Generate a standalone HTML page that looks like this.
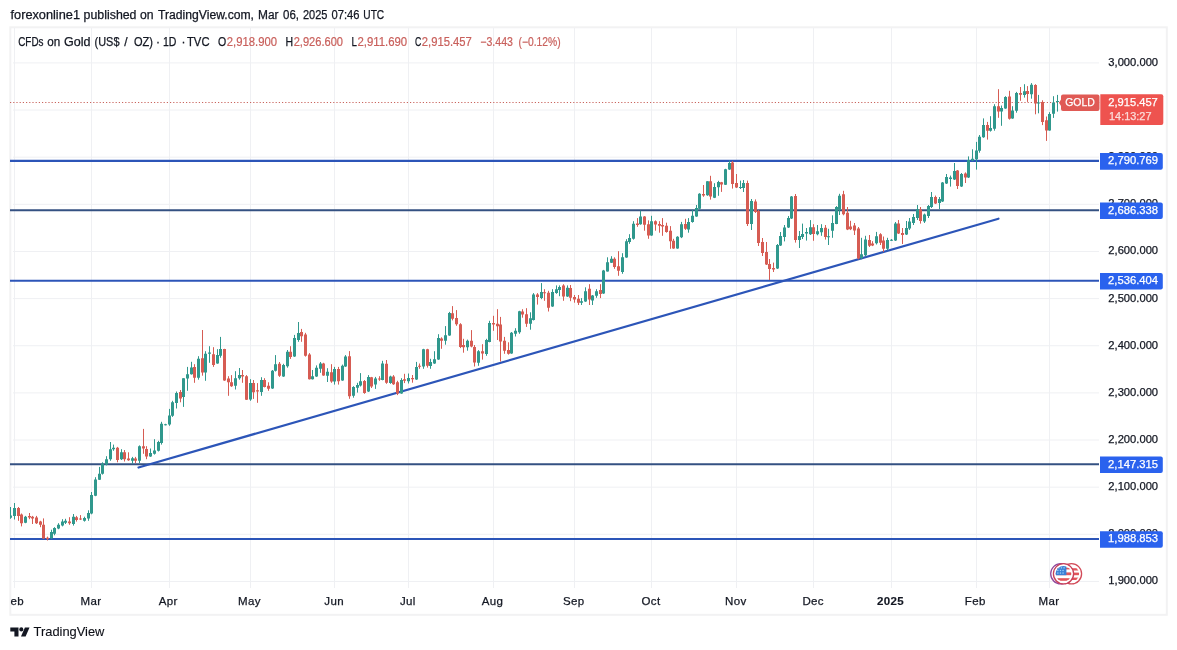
<!DOCTYPE html>
<html lang="en"><head><meta charset="utf-8"><title>CFDs on Gold (US$ / OZ) - TradingView</title>
<style>
html,body{margin:0;padding:0;background:#fff;}
body{width:1177px;height:650px;overflow:hidden;font-family:"Liberation Sans", "DejaVu Sans", sans-serif;}
svg{display:block;}
text{font-family:"Liberation Sans", "DejaVu Sans", sans-serif;font-size:12px;fill:#131722;stroke:#131722;stroke-width:0.25px;}
.w{fill:#fff;stroke:#fff;}
.ax{font-size:11px;}
.tm{font-size:11.5px;letter-spacing:0.35px;}
.b{font-weight:bold;stroke-width:0.15px;}
.rd{fill:#c9605c;stroke:#c9605c;stroke-width:0.2px;}
</style></head><body>
<svg width="1177" height="650" viewBox="0 0 1177 650">
<rect x="0" y="0" width="1177" height="650" fill="#ffffff"/>
<rect x="10.3" y="27.3" width="1156.5" height="587.5" fill="#fff" stroke="#f2f2f3" stroke-width="2"/>
<g stroke="#eff0f3" stroke-width="1" shape-rendering="crispEdges"><line x1="14.5" y1="28" x2="14.5" y2="588"/><line x1="91.5" y1="28" x2="91.5" y2="588"/><line x1="169.5" y1="28" x2="169.5" y2="588"/><line x1="250.5" y1="28" x2="250.5" y2="588"/><line x1="334.5" y1="28" x2="334.5" y2="588"/><line x1="408.5" y1="28" x2="408.5" y2="588"/><line x1="493.5" y1="28" x2="493.5" y2="588"/><line x1="574.5" y1="28" x2="574.5" y2="588"/><line x1="651.5" y1="28" x2="651.5" y2="588"/><line x1="736.5" y1="28" x2="736.5" y2="588"/><line x1="813.5" y1="28" x2="813.5" y2="588"/><line x1="891.5" y1="28" x2="891.5" y2="588"/><line x1="976.5" y1="28" x2="976.5" y2="588"/><line x1="1049.5" y1="28" x2="1049.5" y2="588"/></g>
<g stroke="#eff0f3" stroke-width="1"><line x1="13" y1="581.44" x2="1099" y2="581.44"/><line x1="13" y1="534.30" x2="1099" y2="534.30"/><line x1="13" y1="487.16" x2="1099" y2="487.16"/><line x1="13" y1="440.02" x2="1099" y2="440.02"/><line x1="13" y1="392.88" x2="1099" y2="392.88"/><line x1="13" y1="345.74" x2="1099" y2="345.74"/><line x1="13" y1="298.60" x2="1099" y2="298.60"/><line x1="13" y1="251.46" x2="1099" y2="251.46"/><line x1="13" y1="204.32" x2="1099" y2="204.32"/><line x1="13" y1="157.18" x2="1099" y2="157.18"/><line x1="13" y1="110.04" x2="1099" y2="110.04"/><line x1="13" y1="62.90" x2="1099" y2="62.90"/></g>
<line x1="10" y1="102.5" x2="1100" y2="102.5" stroke="#c9655e" stroke-width="1" stroke-dasharray="1.2 2"/>
<line x1="10" y1="160.9" x2="1099" y2="160.9" stroke="#2c55b8" stroke-width="2.1"/>
<line x1="10" y1="210.2" x2="1099" y2="210.2" stroke="#345182" stroke-width="2.1"/>
<line x1="10" y1="280.8" x2="1099" y2="280.8" stroke="#2c55b8" stroke-width="2.1"/>
<line x1="10" y1="464.3" x2="1099" y2="464.3" stroke="#345182" stroke-width="2.1"/>
<line x1="10" y1="539.0" x2="1099" y2="539.0" stroke="#2c55b8" stroke-width="2.1"/>
<line x1="138.5" y1="467.5" x2="998.5" y2="218.7" stroke="#2c55b8" stroke-width="2.2" stroke-linecap="round"/>
<path d="M10.5 507.0V518.8M14.5 503.0V519.5M25.5 515.9V523.2M51.5 529.7V538.9M54.5 527.2V535.3M58.5 523.2V529.2M62.5 519.2V526.4M65.5 518.8V524.0M73.5 514.0V525.6M84.5 516.7V521.6M88.5 510.3V520.8M91.5 492.0V514.3M95.5 477.2V496.2M99.5 466.9V480.0M102.5 462.3V474.6M106.5 456.2V465.4M110.5 442.0V460.8M113.5 444.6V450.8M121.5 449.2V460.0M132.5 456.9V463.8M139.5 445.4V463.1M150.5 448.5V456.9M154.5 439.2V454.6M158.5 440.8V451.5M161.5 421.8V444.6M165.5 423.8V425.4M169.5 408.9V425.8M172.5 400.8V416.9M176.5 391.5V408.5M183.5 378.2V406.9M187.5 366.9V390.8M191.5 361.8V374.6M198.5 356.2V379.7M205.5 351.2V380.8M209.5 346.2V362.8M217.5 349.2V363.8M220.5 336.9V357.7M235.5 371.2V389.5M239.5 368.0V379.7M250.5 379.2V400.8M261.5 377.2V395.8M272.5 370.0V388.9M275.5 355.1V371.5M283.5 363.8V376.9M287.5 350.0V367.7M294.5 334.9V356.9M298.5 322.0V341.8M312.5 370.0V379.5M316.5 365.4V376.9M320.5 362.0V372.8M327.5 368.2V382.0M334.5 366.9V384.6M342.5 364.6V380.8M345.5 355.1V366.9M353.5 386.2V397.7M357.5 382.8V392.6M360.5 373.1V386.5M368.5 375.1V392.0M375.5 376.9V388.9M382.5 360.8V380.3M390.5 375.7V383.8M401.5 378.2V393.8M408.5 373.5V383.5M416.5 361.9V379.9M423.5 348.8V368.8M430.5 358.8V368.8M434.5 351.2V363.9M438.5 334.2V359.9M445.5 326.1V344.7M449.5 311.9V335.8M467.5 339.6V350.7M478.5 350.1V365.8M486.5 338.8V355.8M489.5 320.8V342.3M511.5 332.0V353.8M515.5 328.2V336.5M519.5 310.8V333.8M530.5 312.3V329.7M533.5 293.1V320.5M541.5 283.1V299.2M552.5 289.2V306.9M556.5 285.4V293.8M559.5 285.4V296.2M567.5 285.4V296.9M581.5 298.1V305.0M585.5 287.3V301.9M592.5 295.0V305.0M596.5 289.2V297.8M603.5 269.9V293.9M607.5 257.3V271.6M611.5 256.2V263.0M622.5 253.2V273.8M626.5 239.2V257.8M629.5 234.2V243.8M633.5 221.2V239.6M640.5 210.7V224.7M651.5 215.8V235.8M677.5 236.2V248.8M681.5 221.9V238.1M688.5 218.1V232.7M692.5 209.6V222.7M696.5 205.0V216.8M699.5 193.2V209.6M707.5 181.2V195.8M714.5 183.2V198.1M718.5 180.8V195.8M725.5 168.8V185.0M729.5 160.4V169.9M740.5 180.6V189.0M743.5 180.0V192.0M751.5 199.0V230.0M777.5 244.0V269.0M780.5 232.0V246.0M784.5 225.0V241.4M788.5 216.0V228.0M791.5 196.0V219.0M799.5 231.0V248.0M802.5 223.6V239.0M806.5 228.0V240.6M810.5 220.1V235.0M817.5 225.0V235.3M821.5 224.2V235.8M828.5 228.8V245.0M832.5 215.3V237.8M836.5 206.1V224.2M839.5 193.8V215.0M861.5 237.8V259.3M865.5 235.8V256.5M876.5 231.9V244.5M887.5 237.8V250.4M891.5 239.0V241.0M895.5 222.0V241.0M906.5 221.0V235.0M909.5 218.0V230.0M913.5 214.0V225.0M917.5 205.0V220.0M924.5 213.6V223.0M928.5 205.0V218.0M931.5 192.0V208.0M939.5 197.0V209.0M942.5 182.0V202.0M946.5 174.0V184.0M950.5 175.6V186.6M954.5 163.0V180.0M961.5 173.0V187.0M968.5 156.4V178.0M972.5 149.3V161.2M976.5 141.9V169.6M979.5 135.0V152.7M983.5 118.4V137.8M990.5 116.2V131.6M994.5 104.2V130.7M1001.5 105.5V125.8M1005.5 96.2V108.8M1012.5 106.2V118.8M1016.5 91.9V112.7M1024.5 84.2V97.6M1031.5 83.1V98.7M1038.5 94.9V113.3M1049.5 112.2V130.7M1053.5 96.2V117.9M1057.5 94.9V111.6" stroke="#30988d" stroke-width="1" fill="none"/>
<path d="M18.5 507.0V520.8M21.5 513.5V526.4M29.5 513.0V519.2M32.5 515.9V524.0M36.5 515.9V524.0M40.5 520.8V527.2M43.5 518.4V538.9M47.5 536.6V540.5M69.5 517.2V524.8M76.5 515.9V521.6M80.5 515.1V520.0M117.5 446.9V462.3M124.5 450.0V461.5M128.5 452.3V460.8M135.5 456.9V463.1M143.5 428.9V453.8M146.5 446.2V459.2M180.5 390.0V402.3M194.5 364.2V382.8M202.5 330.0V375.7M213.5 347.2V366.9M224.5 348.8V380.8M228.5 376.2V395.8M231.5 375.1V386.9M242.5 370.0V382.8M246.5 375.1V400.0M253.5 380.0V398.9M257.5 383.1V402.8M264.5 378.2V387.4M268.5 382.3V390.8M279.5 362.0V376.9M290.5 346.2V358.9M301.5 328.9V341.8M305.5 332.8V356.6M309.5 353.1V379.5M323.5 362.8V375.8M331.5 364.2V382.8M338.5 366.9V384.6M349.5 351.1V398.8M364.5 380.0V393.8M371.5 376.9V388.0M379.5 376.2V380.8M386.5 360.0V383.8M393.5 375.1V384.9M397.5 380.8V395.1M404.5 373.8V383.1M412.5 375.0V382.7M419.5 363.5V368.8M427.5 348.8V367.6M441.5 337.3V348.8M452.5 306.1V320.4M456.5 310.1V325.8M460.5 323.2V348.1M463.5 338.8V352.7M471.5 330.1V347.3M474.5 345.0V366.5M482.5 344.2V359.6M493.5 315.8V330.8M497.5 309.2V340.0M500.5 316.9V361.5M504.5 336.9V353.8M508.5 342.3V354.6M522.5 309.2V317.7M526.5 308.2V326.9M537.5 293.1V304.6M544.5 289.2V300.8M548.5 290.8V311.5M563.5 284.2V300.8M570.5 285.0V301.2M574.5 295.0V302.7M578.5 295.0V305.0M589.5 284.2V305.0M600.5 284.2V298.1M614.5 257.3V268.8M618.5 251.2V275.8M637.5 218.1V226.8M644.5 216.1V230.7M648.5 220.4V238.8M655.5 220.4V230.7M659.5 221.2V232.7M662.5 218.1V235.8M666.5 222.7V232.7M670.5 226.1V248.8M673.5 238.8V248.8M685.5 218.8V229.9M703.5 185.0V196.8M710.5 175.8V199.6M721.5 181.9V191.9M732.5 161.0V188.6M736.5 174.0V188.0M747.5 180.6V226.0M755.5 199.4V213.0M758.5 210.0V246.0M762.5 238.0V256.0M766.5 242.0V265.0M769.5 259.0V280.0M773.5 262.6V272.0M795.5 194.0V242.6M813.5 224.2V240.8M825.5 225.0V239.6M843.5 190.8V215.3M847.5 207.0V230.1M850.5 220.8V230.1M854.5 223.0V235.0M858.5 227.0V259.3M869.5 235.0V247.0M872.5 241.2V246.1M880.5 233.2V245.0M883.5 236.5V251.9M898.5 220.0V234.0M902.5 228.0V244.0M920.5 207.0V223.6M935.5 195.6V204.0M957.5 170.0V189.0M965.5 172.4V183.0M987.5 121.9V139.6M998.5 89.2V117.8M1009.5 90.8V119.6M1020.5 87.0V100.8M1027.5 86.1V101.9M1035.5 84.2V114.3M1042.5 100.3V125.1M1046.5 116.5V140.9" stroke="#d65c53" stroke-width="1" fill="none"/>
<path d="M10 515.4h2V517.7h-2zM13 507.9h3V515.9h-3zM24 516.7h3V522.7h-3zM50 532.1h3V538.2h-3zM53 528.0h3V533.7h-3zM57 524.8h3V528.5h-3zM61 521.6h3V525.6h-3zM64 520.8h3V522.7h-3zM72 516.7h3V524.0h-3zM83 517.9h3V520.8h-3zM87 513.0h3V518.4h-3zM90 494.9h3V513.5h-3zM94 479.6h3V495.7h-3zM98 473.8h3V479.7h-3zM101 463.8h3V473.8h-3zM105 459.2h3V464.6h-3zM109 449.2h3V459.2h-3zM112 447.7h3V449.2h-3zM120 452.3h3V459.2h-3zM131 458.2h3V460.8h-3zM138 446.2h3V460.8h-3zM149 453.1h3V456.5h-3zM153 450.5h3V453.8h-3zM157 442.0h3V450.8h-3zM160 423.8h3V443.1h-3zM164 424.3h3V425.3h-3zM168 415.4h3V424.6h-3zM171 402.3h3V415.7h-3zM175 393.1h3V403.1h-3zM182 378.2h3V396.9h-3zM186 374.2h3V378.5h-3zM190 367.4h3V374.2h-3zM197 358.8h3V377.7h-3zM204 353.8h3V372.6h-3zM208 352.6h3V353.8h-3zM216 355.1h3V363.5h-3zM219 348.9h3V355.7h-3zM234 378.2h3V385.8h-3zM238 375.1h3V378.2h-3zM249 383.1h3V399.5h-3zM260 380.0h3V392.0h-3zM271 370.8h3V388.5h-3zM274 364.2h3V370.8h-3zM282 365.1h3V376.5h-3zM286 351.8h3V366.2h-3zM293 338.0h3V356.5h-3zM297 333.1h3V340.0h-3zM311 376.2h3V379.2h-3zM315 367.7h3V376.5h-3zM319 363.5h3V368.8h-3zM326 371.8h3V375.8h-3zM333 368.9h3V381.5h-3zM341 365.7h3V380.5h-3zM344 356.5h3V366.6h-3zM352 386.9h3V395.8h-3zM356 384.9h3V387.7h-3zM359 381.2h3V385.4h-3zM367 376.9h3V391.5h-3zM374 378.5h3V384.6h-3zM381 363.5h3V380.0h-3zM389 376.6h3V383.1h-3zM400 380.0h3V393.5h-3zM407 378.1h3V381.2h-3zM415 367.0h3V379.6h-3zM422 349.2h3V366.5h-3zM429 361.9h3V366.1h-3zM433 359.3h3V363.5h-3zM437 338.1h3V359.6h-3zM444 335.3h3V340.7h-3zM448 313.0h3V335.5h-3zM466 340.7h3V347.3h-3zM477 351.2h3V362.7h-3zM485 339.9h3V353.9h-3zM488 323.1h3V342.0h-3zM510 332.8h3V353.5h-3zM514 330.8h3V333.8h-3zM518 311.2h3V332.3h-3zM529 318.2h3V323.8h-3zM532 294.6h3V320.0h-3zM540 292.0h3V298.0h-3zM551 292.0h3V306.6h-3zM555 289.2h3V293.1h-3zM558 286.9h3V290.0h-3zM566 287.7h3V296.5h-3zM580 301.2h3V302.7h-3zM584 291.2h3V301.6h-3zM591 295.5h3V300.4h-3zM595 291.2h3V295.8h-3zM602 270.4h3V293.5h-3zM606 262.2h3V271.5h-3zM610 258.8h3V262.7h-3zM621 257.3h3V271.9h-3zM625 241.2h3V257.6h-3zM628 238.1h3V241.9h-3zM632 223.8h3V238.8h-3zM639 216.5h3V224.2h-3zM650 221.2h3V235.5h-3zM676 236.8h3V248.5h-3zM680 224.2h3V237.3h-3zM687 221.9h3V229.6h-3zM691 215.8h3V221.9h-3zM695 208.1h3V216.5h-3zM698 193.8h3V208.8h-3zM706 181.2h3V195.3h-3zM713 187.0h3V197.8h-3zM717 181.9h3V187.3h-3zM724 169.2h3V184.7h-3zM728 163.0h3V169.6h-3zM739 187.0h3V188.0h-3zM742 183.0h3V188.0h-3zM750 201.0h3V224.0h-3zM776 245.0h3V268.6h-3zM779 236.0h3V245.4h-3zM783 227.4h3V237.0h-3zM787 218.0h3V227.4h-3zM790 196.4h3V218.6h-3zM798 236.0h3V240.0h-3zM801 234.0h3V237.0h-3zM805 232.0h3V233.4h-3zM809 227.3h3V234.2h-3zM816 231.2h3V234.2h-3zM820 228.1h3V232.2h-3zM827 236.2h3V237.3h-3zM831 223.0h3V230.7h-3zM835 207.0h3V223.9h-3zM838 195.8h3V209.6h-3zM860 254.2h3V258.1h-3zM864 239.6h3V255.3h-3zM875 236.2h3V243.2h-3zM886 239.9h3V248.8h-3zM890 239.8h3V240.8h-3zM894 223.6h3V240.4h-3zM905 228.0h3V234.4h-3zM908 221.6h3V228.4h-3zM912 217.0h3V223.0h-3zM916 209.0h3V218.0h-3zM923 214.4h3V221.6h-3zM927 206.0h3V216.0h-3zM930 197.0h3V207.0h-3zM938 199.0h3V203.0h-3zM941 182.6h3V201.6h-3zM945 177.0h3V183.6h-3zM949 177.6h3V179.0h-3zM953 171.0h3V179.6h-3zM960 174.0h3V186.4h-3zM967 160.0h3V177.6h-3zM971 158.8h3V160.4h-3zM975 150.4h3V159.3h-3zM978 136.8h3V150.7h-3zM982 125.0h3V137.3h-3zM989 128.1h3V130.7h-3zM993 106.2h3V128.8h-3zM1000 108.1h3V111.6h-3zM1004 97.0h3V108.5h-3zM1011 110.4h3V118.5h-3zM1015 93.0h3V110.7h-3zM1023 91.2h3V94.9h-3zM1030 84.7h3V94.2h-3zM1037 102.5h3V103.5h-3zM1048 114.0h3V130.5h-3zM1052 102.5h3V113.8h-3zM1056 100.9h3V101.9h-3z" fill="#30988d"/>
<path d="M17 507.9h3V515.9h-3zM20 514.6h3V523.2h-3zM28 515.9h3V517.5h-3zM31 516.7h3V518.4h-3zM35 517.5h3V523.2h-3zM39 521.6h3V524.8h-3zM42 524.8h3V538.5h-3zM46 537.7h3V538.9h-3zM68 521.6h3V523.2h-3zM75 517.2h3V520.0h-3zM79 518.4h3V519.4h-3zM116 447.7h3V460.0h-3zM123 452.3h3V459.2h-3zM127 458.5h3V460.3h-3zM134 458.5h3V460.8h-3zM142 446.2h3V448.5h-3zM145 448.9h3V456.6h-3zM179 392.0h3V398.5h-3zM193 366.9h3V377.7h-3zM201 358.2h3V372.6h-3zM212 354.2h3V364.9h-3zM223 348.9h3V380.5h-3zM227 378.5h3V382.3h-3zM230 382.3h3V386.2h-3zM241 375.1h3V376.6h-3zM245 376.2h3V399.7h-3zM252 383.1h3V392.3h-3zM256 390.3h3V391.5h-3zM263 380.0h3V386.9h-3zM267 385.7h3V388.8h-3zM278 363.8h3V375.8h-3zM289 351.8h3V356.9h-3zM300 332.0h3V336.2h-3zM304 334.6h3V355.7h-3zM308 354.6h3V379.2h-3zM322 363.5h3V375.4h-3zM330 372.3h3V381.5h-3zM337 368.9h3V381.2h-3zM348 356.2h3V396.2h-3zM363 381.1h3V393.1h-3zM370 377.2h3V386.5h-3zM378 378.5h3V379.5h-3zM385 363.8h3V382.8h-3zM392 376.6h3V384.3h-3zM396 382.3h3V393.5h-3zM403 379.2h3V380.8h-3zM411 378.1h3V379.3h-3zM418 365.8h3V366.8h-3zM426 349.2h3V365.8h-3zM440 338.4h3V340.7h-3zM451 313.2h3V318.8h-3zM455 318.1h3V324.2h-3zM459 324.2h3V347.0h-3zM462 345.0h3V347.3h-3zM470 340.8h3V346.5h-3zM473 347.0h3V362.4h-3zM481 351.2h3V353.5h-3zM492 323.1h3V324.6h-3zM496 323.8h3V326.2h-3zM499 324.6h3V341.5h-3zM503 340.8h3V350.8h-3zM507 350.0h3V353.8h-3zM521 311.5h3V314.6h-3zM525 314.3h3V323.8h-3zM536 294.6h3V296.9h-3zM543 292.3h3V293.3h-3zM547 292.8h3V307.7h-3zM562 285.4h3V296.5h-3zM569 288.1h3V297.8h-3zM573 297.0h3V299.6h-3zM577 298.8h3V302.7h-3zM588 288.8h3V299.6h-3zM599 289.9h3V293.9h-3zM613 258.8h3V267.0h-3zM617 266.2h3V270.8h-3zM636 223.5h3V225.0h-3zM643 216.5h3V224.7h-3zM647 224.2h3V235.5h-3zM654 221.2h3V224.5h-3zM658 223.9h3V225.8h-3zM661 225.0h3V226.5h-3zM665 225.8h3V231.9h-3zM669 230.7h3V241.2h-3zM672 240.8h3V248.5h-3zM684 223.9h3V228.8h-3zM702 193.9h3V195.5h-3zM709 181.2h3V196.5h-3zM720 182.2h3V184.5h-3zM731 162.6h3V184.0h-3zM735 183.0h3V187.4h-3zM746 183.0h3V224.0h-3zM754 201.4h3V212.0h-3zM757 211.0h3V243.0h-3zM761 242.0h3V253.0h-3zM765 252.0h3V264.4h-3zM768 264.0h3V269.0h-3zM772 268.0h3V269.4h-3zM794 196.0h3V240.0h-3zM812 227.3h3V233.9h-3zM824 227.8h3V237.0h-3zM842 194.2h3V214.2h-3zM846 212.7h3V229.6h-3zM849 226.5h3V229.2h-3zM853 225.5h3V230.4h-3zM857 228.5h3V258.5h-3zM868 239.9h3V245.8h-3zM871 243.5h3V245.5h-3zM879 234.2h3V242.7h-3zM882 240.4h3V248.8h-3zM897 223.6h3V233.6h-3zM901 233.0h3V235.0h-3zM919 209.6h3V221.0h-3zM934 197.0h3V203.6h-3zM956 170.6h3V186.0h-3zM964 173.6h3V177.6h-3zM986 125.0h3V130.7h-3zM997 106.2h3V111.6h-3zM1008 96.5h3V118.8h-3zM1019 93.0h3V94.7h-3zM1026 90.9h3V93.9h-3zM1034 84.9h3V103.6h-3zM1041 101.9h3V121.9h-3zM1045 120.3h3V130.5h-3z" fill="#d65c53"/>
<text class="ax" x="1108.3" y="584.3" textLength="49.8" lengthAdjust="spacingAndGlyphs">1,900.000</text>
<text class="ax" x="1108.3" y="537.2" textLength="49.8" lengthAdjust="spacingAndGlyphs">2,000.000</text>
<text class="ax" x="1108.3" y="490.1" textLength="49.8" lengthAdjust="spacingAndGlyphs">2,100.000</text>
<text class="ax" x="1108.3" y="442.9" textLength="49.8" lengthAdjust="spacingAndGlyphs">2,200.000</text>
<text class="ax" x="1108.3" y="395.8" textLength="49.8" lengthAdjust="spacingAndGlyphs">2,300.000</text>
<text class="ax" x="1108.3" y="348.6" textLength="49.8" lengthAdjust="spacingAndGlyphs">2,400.000</text>
<text class="ax" x="1108.3" y="301.5" textLength="49.8" lengthAdjust="spacingAndGlyphs">2,500.000</text>
<text class="ax" x="1108.3" y="254.4" textLength="49.8" lengthAdjust="spacingAndGlyphs">2,600.000</text>
<text class="ax" x="1108.3" y="207.2" textLength="49.8" lengthAdjust="spacingAndGlyphs">2,700.000</text>
<text class="ax" x="1108.3" y="160.1" textLength="49.8" lengthAdjust="spacingAndGlyphs">2,800.000</text>
<text class="ax" x="1108.3" y="112.9" textLength="49.8" lengthAdjust="spacingAndGlyphs">2,900.000</text>
<text class="ax" x="1108.3" y="65.8" textLength="49.8" lengthAdjust="spacingAndGlyphs">3,000.000</text>
<path d="M1100 153.1h60.8a2 2 0 0 1 2 2v12.6a2 2 0 0 1-2 2h-60.8z" fill="#2a62ee"/>
<text class="w ax" x="1108.1" y="164.3" textLength="50" lengthAdjust="spacingAndGlyphs">2,790.769</text>
<path d="M1100 202.4h60.8a2 2 0 0 1 2 2v12.6a2 2 0 0 1-2 2h-60.8z" fill="#2a62ee"/>
<text class="w ax" x="1108.1" y="213.6" textLength="50" lengthAdjust="spacingAndGlyphs">2,686.338</text>
<path d="M1100 273.0h60.8a2 2 0 0 1 2 2v12.6a2 2 0 0 1-2 2h-60.8z" fill="#2a62ee"/>
<text class="w ax" x="1108.1" y="284.2" textLength="50" lengthAdjust="spacingAndGlyphs">2,536.404</text>
<path d="M1100 456.5h60.8a2 2 0 0 1 2 2v12.6a2 2 0 0 1-2 2h-60.8z" fill="#2a62ee"/>
<text class="w ax" x="1108.1" y="467.7" textLength="50" lengthAdjust="spacingAndGlyphs">2,147.315</text>
<path d="M1100 531.2h60.8a2 2 0 0 1 2 2v12.6a2 2 0 0 1-2 2h-60.8z" fill="#2a62ee"/>
<text class="w ax" x="1108.1" y="542.4" textLength="50" lengthAdjust="spacingAndGlyphs">1,988.853</text>
<path d="M1063 94.5h34.5a2 2 0 0 1 2 2v12.5a2 2 0 0 1-2 2h-34.5a2 2 0 0 1-2-2v-3l-2-3.2 2-3.2v-3.1a2 2 0 0 1 2-2z" fill="#e05a55"/>
<text class="w ax" x="1065.2" y="106.3" textLength="29.6" lengthAdjust="spacingAndGlyphs">GOLD</text>
<path d="M1100.3 94.3h61a2 2 0 0 1 2 2v26.8a2 2 0 0 1-2 2h-61z" fill="#ee534f"/>
<text class="w ax" x="1108.3" y="105.7" textLength="49.5" lengthAdjust="spacingAndGlyphs">2,915.457</text>
<text x="1109" y="119.7" textLength="42.5" lengthAdjust="spacingAndGlyphs" style="fill:#fbdcda;stroke:#fbdcda;font-size:11px">14:13:27</text>
<clipPath id="cl"><rect x="10.6" y="590" width="40" height="22"/></clipPath>
<text x="13.5" y="604.8" text-anchor="middle" class="tm" clip-path="url(#cl)">Feb</text>
<text x="90.9" y="604.8" text-anchor="middle" class="tm">Mar</text>
<text x="168.3" y="604.8" text-anchor="middle" class="tm">Apr</text>
<text x="249.4" y="604.8" text-anchor="middle" class="tm">May</text>
<text x="334.1" y="604.8" text-anchor="middle" class="tm">Jun</text>
<text x="407.8" y="604.8" text-anchor="middle" class="tm">Jul</text>
<text x="492.6" y="604.8" text-anchor="middle" class="tm">Aug</text>
<text x="573.7" y="604.8" text-anchor="middle" class="tm">Sep</text>
<text x="651.0" y="604.8" text-anchor="middle" class="tm">Oct</text>
<text x="735.8" y="604.8" text-anchor="middle" class="tm">Nov</text>
<text x="813.2" y="604.8" text-anchor="middle" class="tm">Dec</text>
<text x="890.6" y="604.8" text-anchor="middle" class="tm b">2025</text>
<text x="975.3" y="604.8" text-anchor="middle" class="tm">Feb</text>
<text x="1049.0" y="604.8" text-anchor="middle" class="tm">Mar</text>
<text y="18.8"><tspan x="10.5" textLength="69.5" lengthAdjust="spacingAndGlyphs">forexonline1</tspan><tspan x="83.6" textLength="52.9" lengthAdjust="spacingAndGlyphs">published</tspan><tspan x="140" textLength="13.6" lengthAdjust="spacingAndGlyphs">on</tspan><tspan x="158.0" textLength="96.0" lengthAdjust="spacingAndGlyphs">TradingView.com,</tspan><tspan x="258" textLength="20.5" lengthAdjust="spacingAndGlyphs">Mar</tspan><tspan x="283" textLength="16.0" lengthAdjust="spacingAndGlyphs">06,</tspan><tspan x="303" textLength="24.5" lengthAdjust="spacingAndGlyphs">2025</tspan><tspan x="331.5" textLength="28.0" lengthAdjust="spacingAndGlyphs">07:46</tspan><tspan x="363.3" textLength="20.9" lengthAdjust="spacingAndGlyphs">UTC</tspan></text>
<text y="46.2"><tspan x="18.2" textLength="25.3" lengthAdjust="spacingAndGlyphs">CFDs</tspan><tspan x="47.2" textLength="13.0" lengthAdjust="spacingAndGlyphs">on</tspan><tspan x="64.0" textLength="26.5" lengthAdjust="spacingAndGlyphs">Gold</tspan><tspan x="94.6" textLength="24.9" lengthAdjust="spacingAndGlyphs">(US$</tspan><tspan x="124.2">/</tspan><tspan x="134.0" textLength="19.0" lengthAdjust="spacingAndGlyphs">OZ)</tspan><tspan x="156.0">·</tspan><tspan x="163" textLength="13.5" lengthAdjust="spacingAndGlyphs">1D</tspan><tspan x="181.6">·</tspan><tspan x="187" textLength="22.5" lengthAdjust="spacingAndGlyphs">TVC</tspan><tspan x="218.0" textLength="8.2" lengthAdjust="spacingAndGlyphs">O</tspan></text>
<text y="46.2"><tspan x="285.5" textLength="7.6" lengthAdjust="spacingAndGlyphs">H</tspan><tspan x="351.4" textLength="5.4" lengthAdjust="spacingAndGlyphs">L</tspan><tspan x="415.0" textLength="6.3" lengthAdjust="spacingAndGlyphs">C</tspan></text>
<text y="46.2" class="rd"><tspan x="226.8" textLength="50.2" lengthAdjust="spacingAndGlyphs">2,918.900</tspan><tspan x="293.7" textLength="49.3" lengthAdjust="spacingAndGlyphs">2,926.600</tspan><tspan x="357.4" textLength="49.8" lengthAdjust="spacingAndGlyphs">2,911.690</tspan><tspan x="421.8" textLength="50.0" lengthAdjust="spacingAndGlyphs">2,915.457</tspan><tspan x="480.3" textLength="32.7" lengthAdjust="spacingAndGlyphs">−3.443</tspan><tspan x="518.5" textLength="42.1" lengthAdjust="spacingAndGlyphs">(−0.12%)</tspan></text>
<g id="flags">
<circle cx="1060.8" cy="573.8" r="10.1" fill="#fff" stroke="#8f479c" stroke-width="1.3"/>
<circle cx="1071.5" cy="573.8" r="10.1" fill="#fff" stroke="#d24a58" stroke-width="1.3"/>
<clipPath id="fc2"><circle cx="1071.5" cy="573.8" r="7.6"/></clipPath>
<g clip-path="url(#fc2)"><rect x="1062" y="565" width="20" height="18" fill="#fff"/><rect x="1062" y="568.2" width="20" height="2.3" fill="#e2555a"/><rect x="1062" y="572.6" width="20" height="2.6" fill="#e2555a"/><rect x="1062" y="577.6" width="20" height="2.4" fill="#e2555a"/></g>
<circle cx="1063.5" cy="573.8" r="10.1" fill="#fff" stroke="#c8405a" stroke-width="1.3"/>
<clipPath id="fc1"><circle cx="1063.5" cy="573.8" r="7.8"/></clipPath>
<g clip-path="url(#fc1)"><rect x="1054" y="565" width="20" height="18" fill="#fff"/><rect x="1054" y="572.4" width="20" height="2.8" fill="#e2555a"/><rect x="1054" y="578.2" width="20" height="2.6" fill="#e2555a"/><rect x="1054" y="567.6" width="20" height="1.8" fill="#e2555a"/><rect x="1054" y="565" width="12.4" height="10.2" fill="#3a7fd5"/>
<g fill="#9fd0f5"><rect x="1058.2" y="567.2" width="1.3" height="1.3"/><rect x="1060.8" y="567.2" width="1.3" height="1.3"/><rect x="1063.4" y="567.2" width="1.3" height="1.3"/><rect x="1057.2" y="569.8" width="1.3" height="1.3"/><rect x="1059.8" y="569.8" width="1.3" height="1.3"/><rect x="1062.4" y="569.8" width="1.3" height="1.3"/><rect x="1057.2" y="572.4" width="1.3" height="1.3"/><rect x="1059.8" y="572.4" width="1.3" height="1.3"/><rect x="1062.4" y="572.4" width="1.3" height="1.3"/></g></g>
</g>
<g fill="#131722"><path d="M10.3 627.4h8.2v9h-4.1v-5h-4.1z"/><circle cx="21.3" cy="629.4" r="2.05"/><path d="M24.9 627.4h4.6l-3.9 9h-4.6z"/></g>
<text x="33.6" y="636.4" textLength="70.8" lengthAdjust="spacingAndGlyphs" style="font-size:12.6px;fill:#0c0e15;stroke-width:0.12px">TradingView</text>
</svg></body></html>
